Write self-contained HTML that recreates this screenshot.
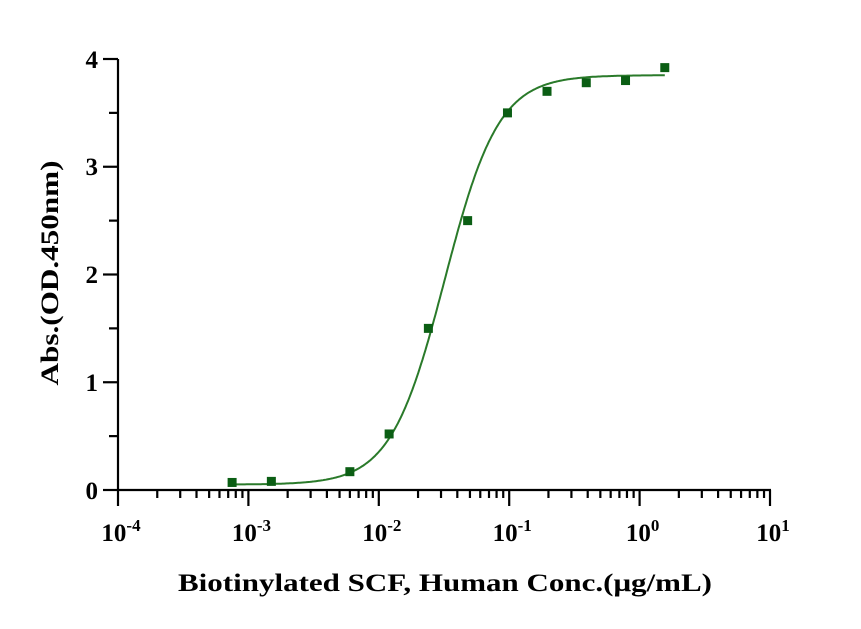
<!DOCTYPE html>
<html><head><style>body{margin:0;background:#fff}svg{display:block}</style></head>
<body>
<svg id="s" width="861" height="629" xmlns="http://www.w3.org/2000/svg" font-family="Liberation Serif, serif" font-weight="bold">
<g stroke="#000" stroke-width="2.2" fill="none" id="ax">
<line x1="118" y1="59" x2="118" y2="491"/>
<line x1="117" y1="490" x2="771" y2="490"/>
</g>
<g font-size="25" text-anchor="end" fill="#000">
<text x="98" y="499">0</text><text x="98" y="391">1</text><text x="98" y="283">2</text><text x="98" y="175">3</text><text x="98" y="68">4</text>
</g>
<g font-size="25" text-anchor="middle" fill="#000" id="xl"></g>
<text transform="translate(58,273) rotate(-90)" font-size="25" text-anchor="middle" fill="#000" textLength="225" lengthAdjust="spacingAndGlyphs">Abs.(OD.450nm)</text>
<text x="445" y="591" font-size="25" text-anchor="middle" fill="#000" textLength="534" lengthAdjust="spacingAndGlyphs">Biotinylated SCF, Human Conc.(μg/mL)</text>
<path id="c" fill="none" stroke="#2a7a2a" stroke-width="2"/>
<g id="p" fill="#0b5e14"></g>
</svg>
<script>
var X=function(v){return 118+130.4*(Math.log10(v)+4)},Y=function(v){return 490-107.75*v};
var ax=document.getElementById('ax'),ns='http://www.w3.org/2000/svg';
function ln(a,b,c,d){var l=document.createElementNS(ns,'line');l.setAttribute('x1',a);l.setAttribute('y1',b);l.setAttribute('x2',c);l.setAttribute('y2',d);ax.appendChild(l);}
for(var i=0;i<=4;i++){ln(103,Y(i),118,Y(i));if(i<4)ln(109,Y(i+0.5),118,Y(i+0.5));}
var xl=document.getElementById('xl');
for(var e=-4;e<=1;e++){var x=X(Math.pow(10,e));ln(x,490,x,506);
var t=document.createElementNS(ns,'text');t.setAttribute('x',x+3);t.setAttribute('y',541);t.innerHTML='10<tspan font-size="17" dy="-10">'+e+'</tspan>';xl.appendChild(t);
if(e<1)for(var k=2;k<10;k++){var xx=X(k*Math.pow(10,e));ln(xx,490,xx,498);}}
var f=function(x){var r=Math.pow(x/0.032,2.1);return 0.05+3.8*r/(1+r)};
var d='';for(var i=0;i<=300;i++){var lx=Math.log10(0.00075)+i/300*(Math.log10(1.56)-Math.log10(0.00075));var v=Math.pow(10,lx);d+=(i?'L':'M')+X(v).toFixed(1)+' '+Y(f(v)).toFixed(1);}
document.getElementById('c').setAttribute('d',d);
var pts=[[0.00075,0.07],[0.0015,0.08],[0.006,0.17],[0.012,0.52],[0.024,1.5],[0.048,2.5],[0.097,3.5],[0.195,3.7],[0.39,3.78],[0.78,3.8],[1.56,3.92]];
var g=document.getElementById('p');pts.forEach(function(p){var r=document.createElementNS(ns,'rect');r.setAttribute('x',X(p[0])-4.5);r.setAttribute('y',Y(p[1])-4.5);r.setAttribute('width',9);r.setAttribute('height',9);g.appendChild(r);});
</script>
</body></html>
